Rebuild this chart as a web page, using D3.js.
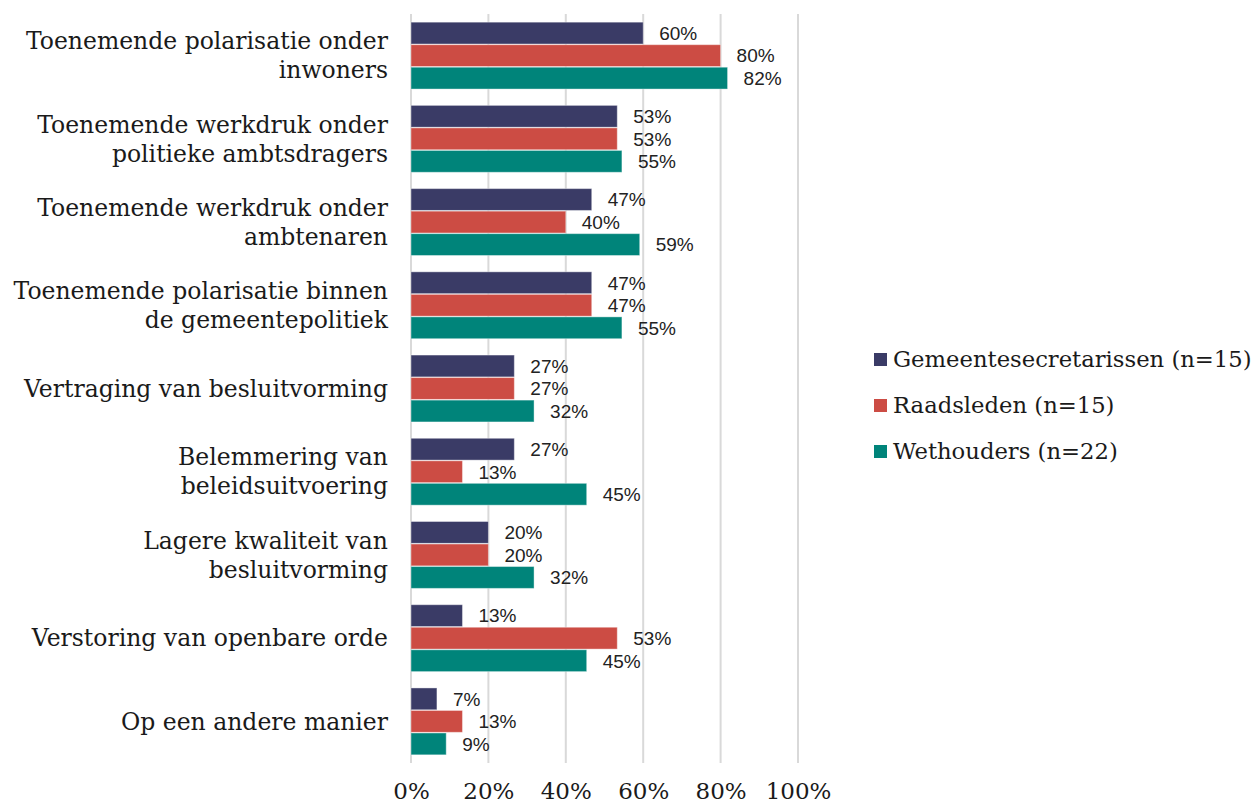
<!DOCTYPE html>
<html>
<head>
<meta charset="utf-8">
<script src="https://cdn.jsdelivr.net/npm/d3@7"></script>
<style>
  body { margin: 0; background: #fff; }
  .cat { font-family: "DejaVu Serif", serif; font-size: 23.5px; fill: #1a1a1a; }
  .tick text { font-family: "DejaVu Serif", serif; font-size: 23px; fill: #1a1a1a; }
  .val { font-family: "Liberation Sans", Arial, sans-serif; font-size: 19px; fill: #222; }
  .leg { font-family: "DejaVu Serif", serif; font-size: 22.7px; fill: #1a1a1a; }
</style>
</head>
<body>
<script>
// categories (each entry split into its lines)
var categories = [
  ["Toenemende polarisatie onder", "inwoners"],
  ["Toenemende werkdruk onder", "politieke ambtsdragers"],
  ["Toenemende werkdruk onder", "ambtenaren"],
  ["Toenemende polarisatie binnen", "de gemeentepolitiek"],
  ["Vertraging van besluitvorming"],
  ["Belemmering van", "beleidsuitvoering"],
  ["Lagere kwaliteit van", "besluitvorming"],
  ["Verstoring van openbare orde"],
  ["Op een andere manier"]
];
var seriesNames = ["Gemeentesecretarissen (n=15)", "Raadsleden (n=15)", "Wethouders (n=22)"];
var seriesColors = ["#3a3b66", "#cc4c44", "#00847a"];
var secretarissen = [60, 53.3, 46.7, 46.7, 26.7, 26.7, 20, 13.3, 6.7];
var raadsleden    = [80, 53.3, 40, 46.7, 26.7, 13.3, 20, 53.3, 13.3];
var wethouders    = [81.8, 54.5, 59.1, 54.5, 31.8, 45.4, 31.8, 45.4, 9.1];
var tickValues = [0, 20, 40, 60, 80, 100];

var series = [secretarissen, raadsleden, wethouders];
var width = 1254, height = 805;

var svg = d3.select("body").append("svg")
  .attr("width", width)
  .attr("height", height);

var x = d3.scaleLinear().domain([0, 100]).range([411, 798]);
var catIdx = d3.range(categories.length);
var y0 = d3.scaleBand().domain(catIdx).range([14, 763]).paddingInner(0.18).paddingOuter(0.09);
var y1 = d3.scaleBand().domain([0, 1, 2]).range([0, y0.bandwidth()]).padding(0.03);

// gridlines
svg.append("g").selectAll("line")
  .data(tickValues)
  .enter().append("line")
    .attr("x1", function(d) { return x(d); })
    .attr("x2", function(d) { return x(d); })
    .attr("y1", 14).attr("y2", 763)
    .attr("stroke", "#d9d9d9")
    .attr("stroke-width", 2);

// x axis labels
var xAxis = d3.axisBottom(x)
  .tickValues(tickValues)
  .tickSize(0)
  .tickPadding(0)
  .tickFormat(function(d) { return d + "%"; });
var gx = svg.append("g").attr("transform", "translate(0,783)").call(xAxis);
gx.select(".domain").remove();
gx.selectAll(".tick text").attr("dy", "0.71em");

// bars
var groups = svg.append("g").selectAll("g")
  .data(catIdx)
  .enter().append("g")
    .attr("transform", function(i) { return "translate(0," + y0(i) + ")"; });

groups.selectAll("rect")
  .data(function(i) { return series.map(function(s, k) { return {k: k, v: s[i]}; }); })
  .enter().append("rect")
    .attr("x", x(0))
    .attr("y", function(d) { return y1(d.k); })
    .attr("width", function(d) { return x(d.v) - x(0); })
    .attr("height", y1.bandwidth())
    .attr("fill", function(d) { return seriesColors[d.k]; })
    .attr("stroke", "#ffffff")
    .attr("stroke-opacity", 0.4)
    .attr("stroke-width", 1);

groups.selectAll("text")
  .data(function(i) { return series.map(function(s, k) { return {k: k, v: s[i]}; }); })
  .enter().append("text")
    .attr("class", "val")
    .attr("x", function(d) { return x(d.v) + 16; })
    .attr("y", function(d) { return y1(d.k) + y1.bandwidth() / 2; })
    .attr("dy", "0.36em")
    .text(function(d) { return Math.round(d.v) + "%"; });

// category labels
var lineH = 29;
svg.append("g").selectAll("text")
  .data(catIdx)
  .enter().append("text")
    .attr("class", "cat")
    .attr("text-anchor", "end")
    .attr("transform", function(i) { return "translate(388," + (y0(i) + y0.bandwidth() / 2) + ")"; })
    .each(function(i) {
      var lines = categories[i];
      var t = d3.select(this);
      lines.forEach(function(l, j) {
        t.append("tspan")
          .attr("x", 0)
          .attr("y", (j - (lines.length - 1) / 2) * lineH)
          .attr("dy", "0.35em")
          .text(l);
      });
    });

// legend
var leg = svg.append("g").selectAll("g")
  .data(seriesNames)
  .enter().append("g")
    .attr("transform", function(d, i) { return "translate(874," + (359 + i * 46) + ")"; });
leg.append("rect")
  .attr("x", 0).attr("y", -6)
  .attr("width", 13).attr("height", 13)
  .attr("fill", function(d, i) { return seriesColors[i]; });
leg.append("text")
  .attr("class", "leg")
  .attr("x", 19)
  .attr("dy", "0.35em")
  .text(function(d) { return d; });
</script>
</body>
</html>
